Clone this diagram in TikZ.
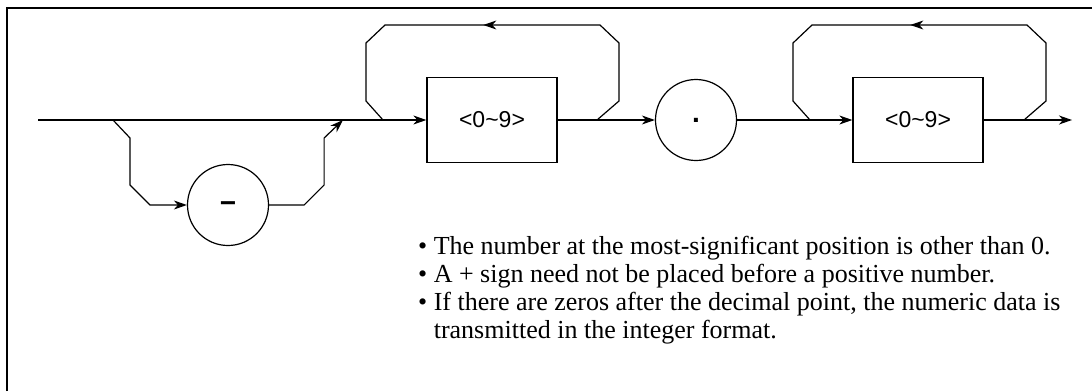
\documentclass[tikz,border=0pt]{standalone}
\usepackage{fontspec}
\setmainfont{Liberation Serif}
\newfontfamily\diagfont{Liberation Sans}
\usetikzlibrary{arrows.meta, decorations.markings}

\begin{document}
\begin{tikzpicture}[x=1pt, y=-1pt,
  every node/.style={align=center},
  % Elements - boxes and circles of the syntax chart
  digit/.style={rectangle, draw=black, line width=1.3pt, minimum width=130pt, minimum height=85pt, font=\diagfont\fontsize{23}{23}\selectfont},
  sym/.style={circle, draw=black, line width=1.2pt, minimum size=81pt, inner sep=0pt, font=\diagfont\bfseries\fontsize{28}{28}\selectfont},
  % Connectors - plain lines, arrows, loops with a mid arrow
  wire/.style={draw=black, line width=1.2pt, line join=miter},
  flow/.style={wire, -{Stealth[length=13pt, width=9pt, inset=4pt]}},
  loopback/.style={wire, postaction={decorate}, decoration={markings, mark=at position 0.525 with {\arrow{Stealth[length=13pt, width=9pt, inset=4pt]}}}},
  note/.style={align=left, inner sep=0pt, font=\fontsize{26}{27.7}\selectfont}
]
\useasboundingbox (0,0) rectangle (1092,391);

% === FRAME ===
\draw[line width=2pt] (7,391) -- (7,8) -- (1092,8);

% === POINTS ON THE MAIN LINE ===
\coordinate (start) at (38,120);
\coordinate (split) at (113,120);
\coordinate (merge) at (343,120);
\coordinate (loopAout) at (383,120);
\coordinate (loopAin) at (597,120);
\coordinate (loopBout) at (810,120);
\coordinate (loopBin) at (1024,120);
\coordinate (stop) at (1072,120);

% === NODES ===

% Sign
\node[sym] (neg) at (228,205) {\smash{\raisebox{-0.255em}{−}}};

% Integer digits
\node[digit] (digA) at (492,120) {<0\textasciitilde9>};

% Decimal point
\node[sym] (point) at (696,120) {.};

% Fraction digits
\node[digit] (digB) at (918,120) {<0\textasciitilde9>};

% === CONNECTORS ===

% Main line
\draw[flow] (start) -- (digA);
\draw[flow] (digA) -- (point);
\draw[flow] (point) -- (digB);
\draw[flow] (digB) -- (stop);

% Optional sign
\draw[flow] (split) -- ++(17,18) -- ++(0,47) -- ++(20,20) -- (neg);
\draw[flow] (neg.east) -- ++(35,0) -- ++(20,-20) -- ++(0,-47) -- (merge);

% Repeats
\draw[loopback] (loopAin) -- ++(22,-19) -- ++(0,-58) -- ++(-19,-18) -- ++(-215,0) -- ++(-19,18) -- ++(0,58) -- (loopAout);
\draw[loopback] (loopBin) -- ++(22,-19) -- ++(0,-58) -- ++(-19,-18) -- ++(-215,0) -- ++(-19,18) -- ++(0,58) -- (loopBout);

% === NOTES ===
\node[note, anchor=base west] (notes) at (418,338) {\textbullet\ The number at the most-significant position is other than 0.\\
\textbullet\ A + sign need not be placed before a positive number.\\
\textbullet\ If there are zeros after the decimal point, the numeric data is\\
\phantom{\textbullet\ }transmitted in the integer format.};

\end{tikzpicture}
\end{document}
